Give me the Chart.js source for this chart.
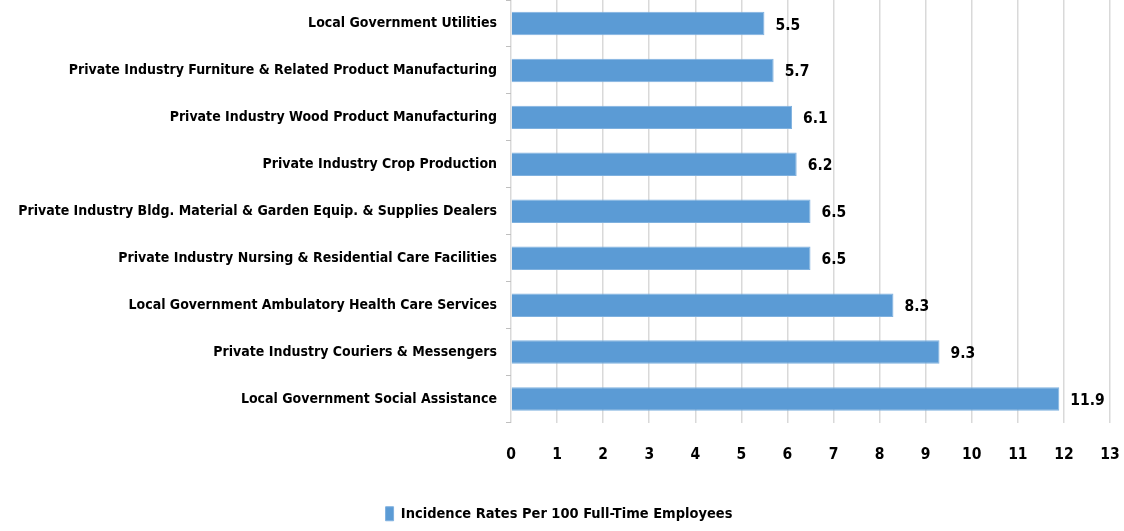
<!DOCTYPE html>
<html>
<head>
<meta charset="utf-8">
<script src="https://cdn.jsdelivr.net/npm/chart.js@4.4.1/dist/chart.umd.min.js"></script>
<style>
  html, body { margin: 0; padding: 0; background: #fff; }
  #wrap { width: 1124px; height: 531px; position: relative; }
</style>
</head>
<body>
<div id="wrap"><canvas id="chart"></canvas></div>
<script>
// categorías (de arriba hacia abajo) y valores
const industries = [
  "Local Government Utilities",
  "Private Industry Furniture & Related Product Manufacturing",
  "Private Industry Wood Product Manufacturing",
  "Private Industry Crop Production",
  "Private Industry Bldg. Material & Garden Equip. & Supplies Dealers",
  "Private Industry Nursing & Residential Care Facilities",
  "Local Government Ambulatory Health Care Services",
  "Private Industry Couriers & Messengers",
  "Local Government Social Assistance"
];
const incidenceRates = [5.5, 5.7, 6.1, 6.2, 6.5, 6.5, 8.3, 9.3, 11.9];
const seriesLabel = "Incidence Rates Per 100 Full-Time Employees";
const xMin = 0;
const xMax = 13;

const FONT = "'Liberation Sans Narrow', 'DejaVu Sans Condensed', 'Arial Narrow', sans-serif";

// etiquetas de valor al final de cada barra
const valueLabels = {
  id: "valueLabels",
  afterDatasetsDraw(chart) {
    const ctx = chart.ctx;
    const meta = chart.getDatasetMeta(0);
    ctx.save();
    ctx.font = "bold 15.5px " + FONT;
    ctx.fillStyle = "#000";
    ctx.textAlign = "left";
    ctx.textBaseline = "middle";
    meta.data.forEach((bar, i) => {
      ctx.fillText(String(incidenceRates[i]), bar.x + 11, bar.y + 2);
    });
    ctx.restore();
  }
};

new Chart(document.getElementById("chart"), {
  type: "bar",
  data: {
    labels: industries,
    datasets: [{
      label: seriesLabel,
      data: incidenceRates,
      backgroundColor: "#5B9BD5",
      borderColor: "#7FB1DF",
      borderWidth: 1,
      categoryPercentage: 1,
      barPercentage: 0.5
    }]
  },
  options: {
    indexAxis: "y",
    responsive: true,
    maintainAspectRatio: false,
    animation: false,
    layout: { padding: { top: 0, right: 14, bottom: 0, left: 8 } },
    scales: {
      x: {
        min: xMin,
        max: xMax,
        ticks: {
          stepSize: 1,
          color: "#000",
          padding: 23,
          font: { family: FONT, size: 15.5, weight: "bold" }
        },
        grid: { color: "#d9d9d9", lineWidth: 1.5, drawTicks: false },
        border: { display: false },
        afterFit(scale) {
          scale.height = 82;
          scale.paddingLeft = 0;
          scale.paddingRight = 0;
        }
      },
      y: {
        ticks: {
          color: "#000",
          padding: 9,
          font: { family: FONT, size: 14, weight: "bold" }
        },
        grid: {
          drawOnChartArea: false,
          drawTicks: true,
          tickLength: 5,
          color: "#bfbfbf"
        },
        border: { display: false },
        afterFit(scale) {
          scale.width = 503;
          scale.paddingTop = 0;
          scale.paddingBottom = 0;
        }
      }
    },
    plugins: {
      legend: {
        position: "bottom",
        labels: {
          color: "#000",
          boxWidth: 8,
          boxHeight: 14,
          padding: 2,
          font: { family: FONT, size: 14.5, weight: "bold" }
        }
      },
      tooltip: { enabled: false }
    }
  },
  plugins: [valueLabels]
});
</script>
</body>
</html>
